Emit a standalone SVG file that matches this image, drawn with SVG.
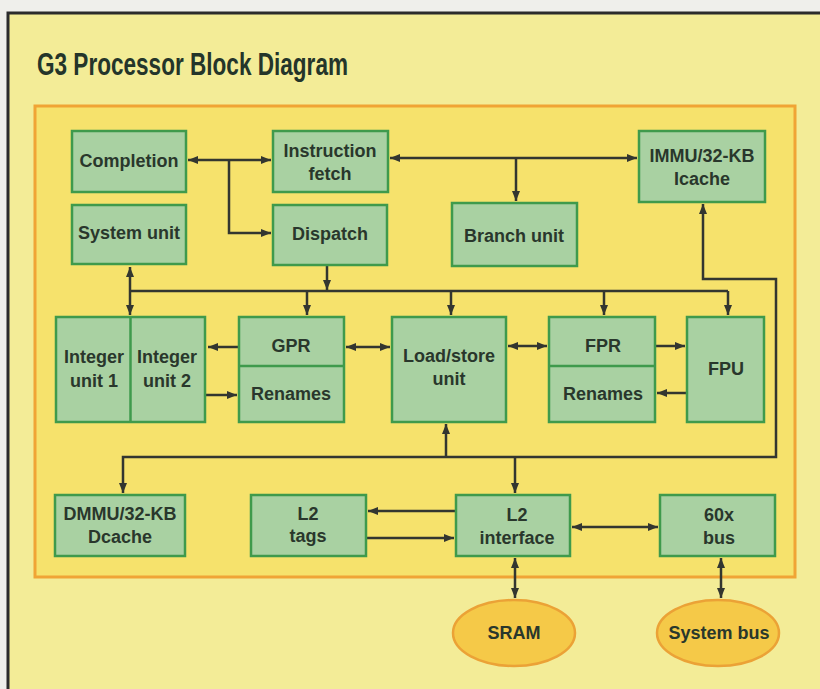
<svg xmlns="http://www.w3.org/2000/svg" width="820" height="689" viewBox="0 0 820 689">
<defs>
<marker id="ah" viewBox="0 0 10 8" markerWidth="10" markerHeight="8" refX="10" refY="4" orient="auto-start-reverse" markerUnits="userSpaceOnUse">
<path d="M0,0 L10,4 L0,8 z" fill="#333630"/>
</marker>
<style>
.n{fill:#a9d1a2;stroke:#3f9a4c;stroke-width:2.5}
.e{fill:#f5c948;stroke:#eba236;stroke-width:2.5}
.t{font-family:"Liberation Sans",Arial,sans-serif;font-weight:bold;font-size:18px;fill:#29372c;text-anchor:middle}
.c{fill:none;stroke:#333630;stroke-width:2.5}
.b{marker-end:url(#ah)}
.d{marker-start:url(#ah);marker-end:url(#ah)}
</style>
</defs>
<rect x="0" y="0" width="820" height="689" fill="#efefeb"/>
<rect x="8" y="13" width="830" height="690" fill="#f3ec97" stroke="#2b2b2b" stroke-width="3"/>
<text x="37" y="75" font-family="'Liberation Sans',Arial,sans-serif" font-weight="bold" font-size="31" fill="#24352a" textLength="311" lengthAdjust="spacingAndGlyphs">G3 Processor Block Diagram</text>
<rect x="35" y="106" width="760" height="471" fill="#f6e26c" stroke="#f0a435" stroke-width="3"/>

<g id="connectors">
<path class="c d" d="M188,160 H271"/>
<path class="c b" d="M229,160 V233 H271"/>
<path class="c d" d="M390,158 H637"/>
<path class="c b" d="M516,158 V201"/>
<path class="c b" d="M327,265 V290"/>
<path class="c" d="M130,291 H728"/>
<path class="c d" d="M130,267 V315"/>
<path class="c b" d="M307,291 V315"/>
<path class="c b" d="M451,291 V315"/>
<path class="c b" d="M604,291 V315"/>
<path class="c b" d="M728,291 V315"/>
<path class="c b" d="M239,347 H208"/>
<path class="c b" d="M205,395 H237"/>
<path class="c d" d="M346,347 H390"/>
<path class="c d" d="M508,346 H547"/>
<path class="c b" d="M655,346 H685"/>
<path class="c b" d="M687,393 H657"/>
<path class="c d" d="M703,204 V279 H776 V457 H123 V493"/>
<path class="c b" d="M446,457 V424"/>
<path class="c b" d="M515,457 V493"/>
<path class="c b" d="M456,511 H368"/>
<path class="c b" d="M366,538 H454"/>
<path class="c d" d="M572,527 H658"/>
<path class="c d" d="M515,558 V598"/>
<path class="c d" d="M721,558 V598"/>
</g>

<g id="completion"><rect class="n" x="72" y="131" width="114" height="61"/><text class="t" x="129" y="167">Completion</text></g>
<g id="instruction-fetch"><rect class="n" x="273" y="131" width="115" height="61"/><text class="t" x="330" y="157">Instruction</text><text class="t" x="330" y="180">fetch</text></g>
<g id="immu"><rect class="n" x="639" y="131" width="126" height="71"/><text class="t" x="702" y="162">IMMU/32-KB</text><text class="t" x="702" y="185">Icache</text></g>
<g id="system-unit"><rect class="n" x="72" y="205" width="114" height="59"/><text class="t" x="129" y="239">System unit</text></g>
<g id="dispatch"><rect class="n" x="273" y="205" width="114" height="60"/><text class="t" x="330" y="240">Dispatch</text></g>
<g id="branch-unit"><rect class="n" x="452" y="203" width="125" height="63"/><text class="t" x="514" y="242">Branch unit</text></g>
<g id="integer-units"><rect class="n" x="56" y="317" width="149" height="105"/><line x1="130.5" y1="317" x2="130.5" y2="422" stroke="#3f9a4c" stroke-width="2.5"/><text class="t" x="94" y="363">Integer</text><text class="t" x="94" y="387">unit 1</text><text class="t" x="167" y="363">Integer</text><text class="t" x="167" y="387">unit 2</text></g>
<g id="gpr"><rect class="n" x="239" y="317" width="105" height="105"/><line x1="239" y1="366" x2="344" y2="366" stroke="#3f9a4c" stroke-width="2.5"/><text class="t" x="291" y="352">GPR</text><text class="t" x="291" y="400">Renames</text></g>
<g id="load-store"><rect class="n" x="392" y="317" width="114" height="105"/><text class="t" x="449" y="362">Load/store</text><text class="t" x="449" y="385">unit</text></g>
<g id="fpr"><rect class="n" x="549" y="317" width="106" height="105"/><line x1="549" y1="366" x2="655" y2="366" stroke="#3f9a4c" stroke-width="2.5"/><text class="t" x="603" y="352">FPR</text><text class="t" x="603" y="400">Renames</text></g>
<g id="fpu"><rect class="n" x="687" y="317" width="77" height="105"/><text class="t" x="726" y="375">FPU</text></g>
<g id="dmmu"><rect class="n" x="55" y="495" width="130" height="61"/><text class="t" x="120" y="520">DMMU/32-KB</text><text class="t" x="120" y="543">Dcache</text></g>
<g id="l2-tags"><rect class="n" x="251" y="495" width="115" height="61"/><text class="t" x="308" y="520">L2</text><text class="t" x="308" y="542">tags</text></g>
<g id="l2-interface"><rect class="n" x="456" y="495" width="114" height="61"/><text class="t" x="517" y="521">L2</text><text class="t" x="517" y="544">interface</text></g>
<g id="bus60x"><rect class="n" x="660" y="495" width="115" height="61"/><text class="t" x="719" y="521">60x</text><text class="t" x="719" y="544">bus</text></g>
<g id="sram"><ellipse class="e" cx="514" cy="633" rx="61" ry="33"/><text class="t" x="514" y="639">SRAM</text></g>
<g id="system-bus"><ellipse class="e" cx="718" cy="633" rx="61" ry="33"/><text class="t" x="719" y="639">System bus</text></g>
</svg>
